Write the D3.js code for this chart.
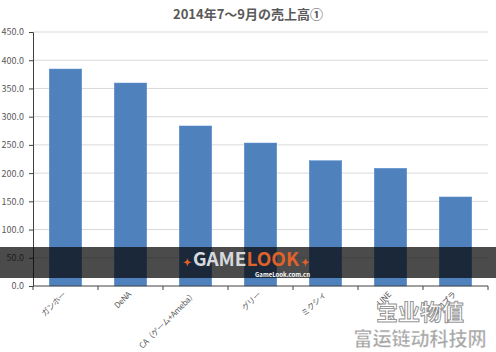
<!DOCTYPE html>
<html>
<head>
<meta charset="utf-8">
<script src="https://cdn.jsdelivr.net/npm/d3@7"></script>
<style>
  body { margin: 0; background: #fff; }
  text { font-family: "Noto Sans CJK JP", "Noto Sans", sans-serif; }
</style>
</head>
<body>
<svg id="chart"></svg>
<script>
(() => {

  const title = '2014年7～9月の売上高①';
  const categories = ['ガンホー', 'DeNA', 'CA（ゲーム+Ameba）', 'グリー', 'ミクシィ', 'LINE', 'コロプラ'];
  const sales = [384.4, 359.6, 283.5, 253.3, 222.0, 208.5, 157.7];
  const yTicks = [0, 50, 100, 150, 200, 250, 300, 350, 400, 450];

  const svgWidth = 496;
  const svgHeight = 352;
  const margin = { top: 32, right: 8, bottom: 66, left: 33 };

  const svg = d3.select('#chart')
    .attr('width', svgWidth)
    .attr('height', svgHeight);

  const xScale = d3.scaleBand()
    .domain(categories)
    .range([margin.left, svgWidth - margin.right])
    .paddingInner(0.5)
    .paddingOuter(0.25);

  const yScale = d3.scaleLinear()
    .domain([0, 450])
    .range([svgHeight - margin.bottom, margin.top]);

  // title
  svg.append('text')
    .attr('x', 248)
    .attr('y', 19)
    .attr('text-anchor', 'middle')
    .attr('font-size', 13)
    .attr('font-weight', 'bold')
    .attr('fill', '#595959')
    .text(title);

  // gridlines
  svg.append('g')
    .selectAll('line')
    .data(yTicks.slice(1))
    .enter()
    .append('line')
    .attr('x1', margin.left)
    .attr('x2', svgWidth - margin.right)
    .attr('y1', d => yScale(d))
    .attr('y2', d => yScale(d))
    .attr('stroke', '#d9d9d9')
    .attr('stroke-width', 1);

  // bars
  svg.append('g')
    .selectAll('rect')
    .data(categories)
    .enter()
    .append('rect')
    .attr('x', d => xScale(d))
    .attr('width', xScale.bandwidth())
    .attr('y', (d, i) => yScale(sales[i]))
    .attr('height', (d, i) => yScale(0) - yScale(sales[i]))
    .attr('fill', '#4f81bd')
    .attr('stroke', '#5b8fcf')
    .attr('stroke-width', 0.5);

  // y axis
  const yAxis = svg.append('g')
    .attr('transform', `translate(${margin.left},0)`)
    .call(d3.axisLeft(yScale).tickValues(yTicks).tickFormat(d3.format('.1f')).tickSize(4).tickPadding(5));
  yAxis.select('.domain').attr('stroke', '#404040');
  yAxis.selectAll('.tick line').attr('stroke', '#404040');
  yAxis.selectAll('.tick text').attr('fill', '#595959').attr('font-size', 9)
    .attr('font-family', '"Liberation Sans", sans-serif');

  // x axis: ticks between categories
  const step = xScale.step();
  const bounds = d3.range(categories.length + 1).map(i => margin.left + i * step);
  const xg = svg.append('g');
  xg.append('line')
    .attr('x1', margin.left).attr('x2', svgWidth - margin.right)
    .attr('y1', yScale(0)).attr('y2', yScale(0))
    .attr('stroke', '#404040');
  xg.selectAll('.xt')
    .data(bounds)
    .enter()
    .append('line')
    .attr('x1', d => d).attr('x2', d => d)
    .attr('y1', yScale(0)).attr('y2', yScale(0) + 4)
    .attr('stroke', '#404040');
  xg.selectAll('text.xl')
    .data(categories)
    .enter()
    .append('text')
    .attr('class', 'xl')
    .attr('transform', d => `translate(${xScale(d) + xScale.bandwidth() / 2 + 1},${yScale(0) + 9}) rotate(-45)`)
    .attr('text-anchor', 'end')
    .attr('font-size', 8)
    .attr('letter-spacing', -0.3)
    .attr('fill', '#595959')
    .text(d => d);

  // watermark band
  const wm = svg.append('g');
  wm.append('rect')
    .attr('x', 0).attr('y', 247)
    .attr('width', svgWidth).attr('height', 31)
    .attr('fill', 'rgba(5,5,5,0.72)');
  const logo = wm.append('text')
    .attr('x', 246).attr('y', 266)
    .attr('text-anchor', 'middle')
    .attr('font-family', '"DejaVu Sans", sans-serif')
    .attr('font-weight', 'bold')
    .attr('font-size', 19);
  logo.append('tspan').attr('fill', '#e0622a').attr('font-size', 10).text('✦ ');
  logo.append('tspan').attr('fill', '#d6dade').text('GAME');
  logo.append('tspan').attr('fill', '#e0622a').text('LOOK');
  logo.append('tspan').attr('fill', '#e0622a').attr('font-size', 10).text(' ✦');
  wm.append('text')
    .attr('x', 310).attr('y', 277)
    .attr('text-anchor', 'end')
    .attr('font-family', '"Liberation Sans", sans-serif')
    .attr('font-weight', 'bold')
    .attr('font-size', 6)
    .attr('fill', '#ffffff')
    .text('GameLook.com.cn');

  // bottom-right watermark
  svg.append('text')
    .attr('x', 420).attr('y', 320)
    .attr('text-anchor', 'middle')
    .attr('font-size', 22)
    .attr('font-weight', 'bold')
    .attr('fill', 'rgba(255,255,255,0.6)')
    .attr('stroke', 'rgba(120,120,120,0.8)')
    .attr('stroke-width', 1)
    .text('宝业物值');
  svg.append('text')
    .attr('x', 420).attr('y', 346)
    .attr('text-anchor', 'middle')
    .attr('font-size', 19)
    .attr('font-weight', 'bold')
    .attr('fill', 'rgba(150,150,150,0.85)')
    .attr('stroke', 'rgba(255,255,255,0.7)')
    .attr('stroke-width', 0.6)
    .text('富运链动科技网');

})();
</script>
</body>
</html>
